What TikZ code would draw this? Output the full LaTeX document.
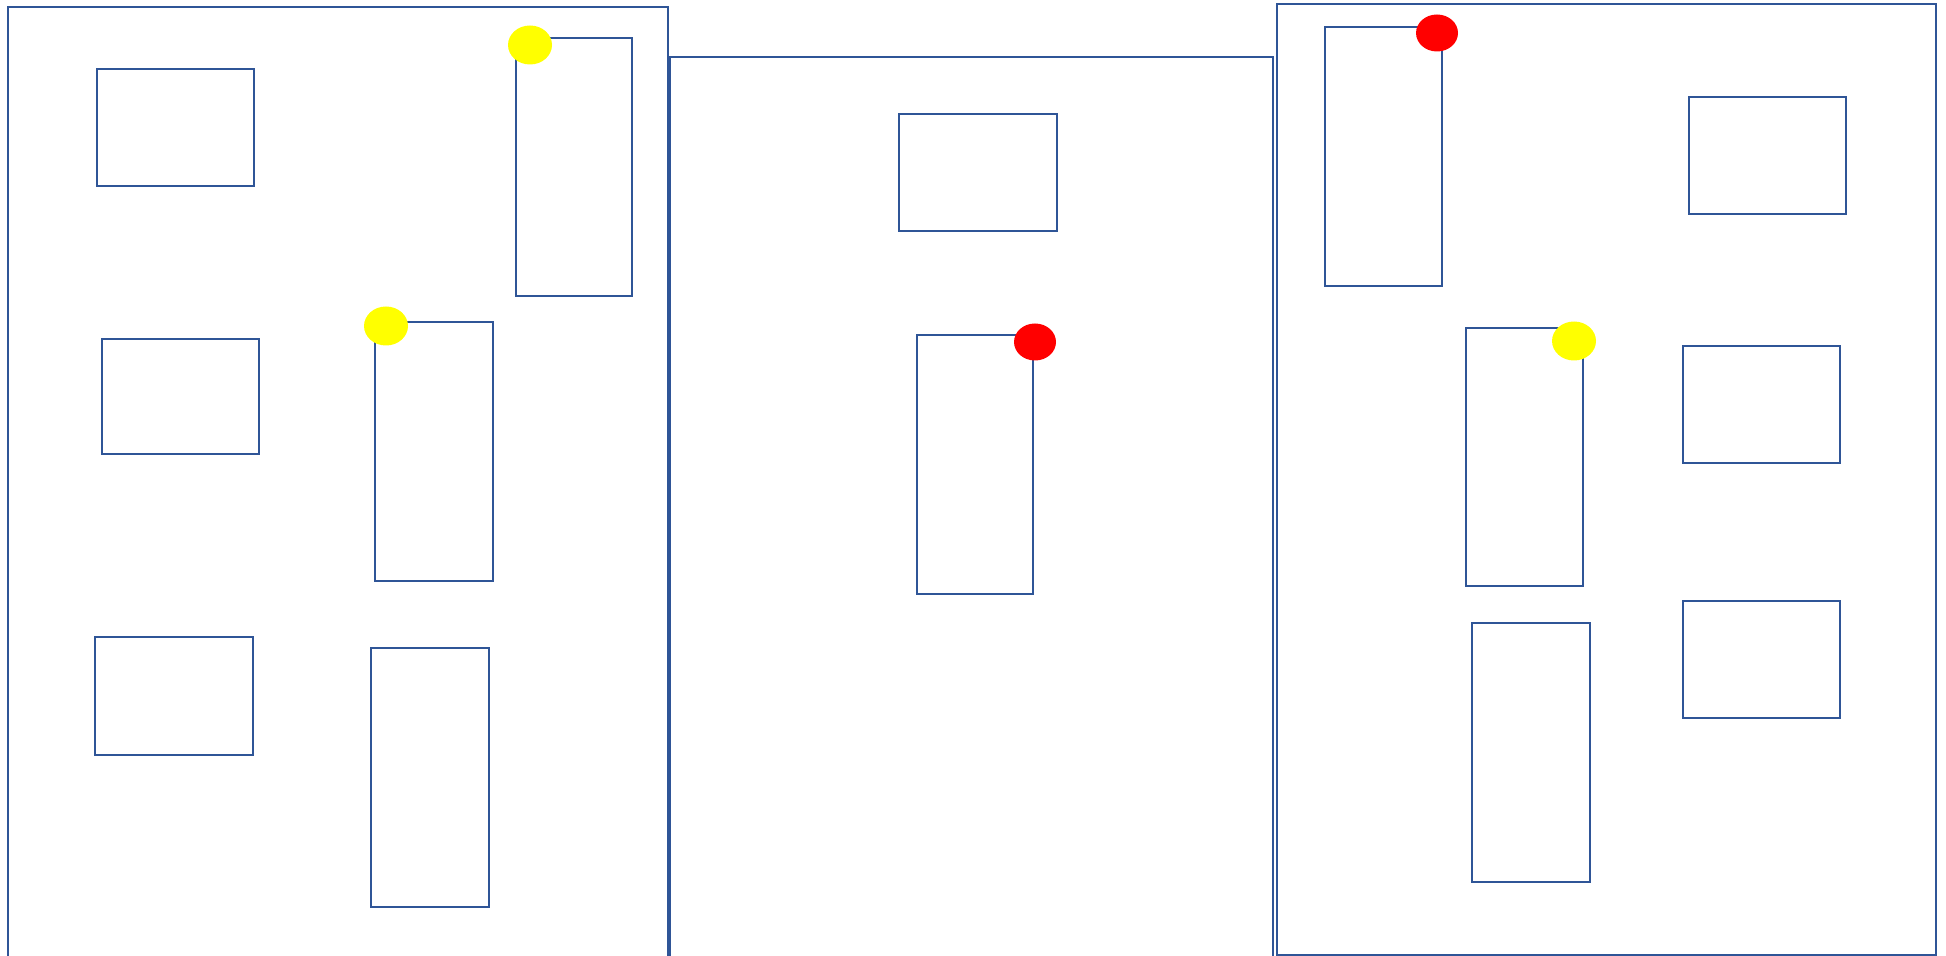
\documentclass[tikz,border=0pt]{standalone}
\definecolor{edge}{RGB}{47,85,151}
\definecolor{dotyellow}{RGB}{255,255,0}
\definecolor{dotred}{RGB}{255,0,0}
\begin{document}
\begin{tikzpicture}[x=0.5pt,y=-0.5pt,
  frame/.style={draw=edge,line width=1.4pt},
  room/.style={draw=edge,line width=1.4pt},
  ydot/.style={fill=dotyellow,draw=none},
  rdot/.style={fill=dotred,draw=none}]
\useasboundingbox (0,0) rectangle (1946,956);
% large panels
\draw[frame] (8,970) -- (8,7) -- (668,7) -- (668,970);
\draw[frame] (670,970) -- (670,57) -- (1273,57) -- (1273,970);
\draw[frame] (1277,4) rectangle (1936,955);
% left panel
\draw[room] (97,69) rectangle (254,186);
\draw[room] (516,38) rectangle (632,296);
\draw[room] (102,339) rectangle (259,454);
\draw[room] (375,322) rectangle (493,581);
\draw[room] (95,637) rectangle (253,755);
\draw[room] (371,648) rectangle (489,907);
% middle panel
\draw[room] (899,114) rectangle (1057,231);
\draw[room] (917,335) rectangle (1033,594);
% right panel
\draw[room] (1325,27) rectangle (1442,286);
\draw[room] (1689,97) rectangle (1846,214);
\draw[room] (1466,328) rectangle (1583,586);
\draw[room] (1683,346) rectangle (1840,463);
\draw[room] (1472,623) rectangle (1590,882);
\draw[room] (1683,601) rectangle (1840,718);
% markers
\fill[ydot] (530,45) ellipse [x radius=22, y radius=19.5];
\fill[ydot] (386,326) ellipse [x radius=22, y radius=19.5];
\fill[rdot] (1035,342) ellipse [x radius=21, y radius=18.5];
\fill[rdot] (1437,33) ellipse [x radius=21, y radius=18.5];
\fill[ydot] (1574,341) ellipse [x radius=22, y radius=19.5];
\end{tikzpicture}
\end{document}
